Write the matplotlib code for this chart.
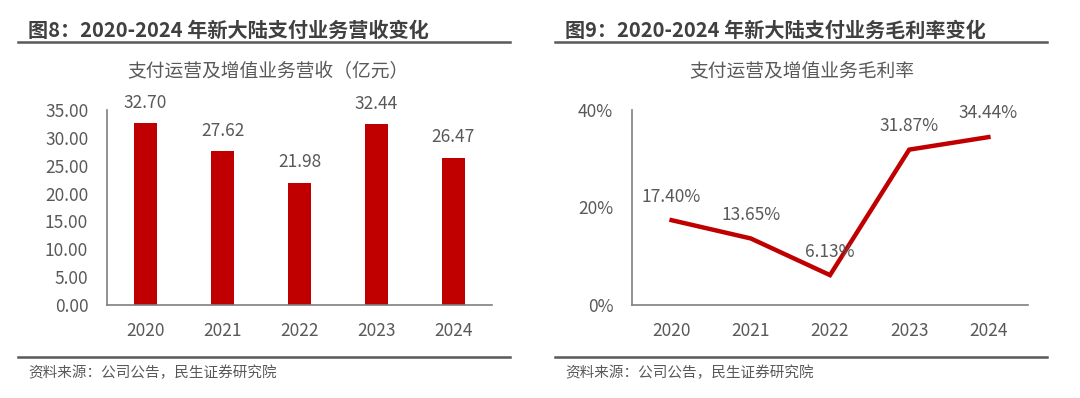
import matplotlib
matplotlib.use('Agg')
import matplotlib.pyplot as plt
from matplotlib.lines import Line2D
from matplotlib.ticker import FuncFormatter

plt.rcParams['font.family'] = ['Noto Sans CJK SC', 'DejaVu Sans']

# 数据
years = ['2020', '2021', '2022', '2023', '2024']
revenue = [32.70, 27.62, 21.98, 32.44, 26.47]          # 亿元
gross_margin = [17.40, 13.65, 6.13, 31.87, 34.44]      # %

RED = '#C00000'
TXT = '#595959'
DARK = '#404040'
W, H = 1080, 398

fig = plt.figure(figsize=(W / 100, H / 100), dpi=100)


def fx(px):
    return px / W


def fy(py):
    return 1 - py / H


def style_axis(ax):
    for s in ['top', 'right']:
        ax.spines[s].set_visible(False)
    for s in ['left', 'bottom']:
        ax.spines[s].set_color('#7f7f7f')
        ax.spines[s].set_linewidth(1.2)
    ax.tick_params(length=0, labelsize=12.5, colors=TXT)
    ax.tick_params(axis='y', pad=13.5)
    ax.tick_params(axis='x', pad=12)
    ax.set_xlim(-0.5, 4.5)


# 左图：营收柱状图
ax1 = fig.add_axes([fx(107), fy(305), fx(492 - 107), (305 - 110) / H])
x = range(len(years))
ax1.bar(x, revenue, width=0.31, color=RED)
ax1.set_ylim(0, 35)
ax1.set_yticks([0, 5, 10, 15, 20, 25, 30, 35])
ax1.yaxis.set_major_formatter(FuncFormatter(lambda v, p: f'{v:.2f}'))
ax1.set_xticks(list(x))
ax1.set_xticklabels(years)
style_axis(ax1)
for i, v in enumerate(revenue):
    ax1.annotate(f'{v:.2f}', (i, v), xytext=(0, 14.5), textcoords='offset points',
                 ha='center', va='center', fontsize=12.5, color=TXT)

# 右图：毛利率折线图
ax2 = fig.add_axes([fx(632), fy(305), fx(1028 - 632), (305 - 110) / H])
ax2.plot(x, [g / 100 for g in gross_margin], color=RED, lw=3.2, solid_joinstyle='miter')
ax2.set_ylim(0, 0.4)
ax2.set_yticks([0, 0.2, 0.4])
ax2.yaxis.set_major_formatter(FuncFormatter(lambda v, p: f'{v * 100:.0f}%'))
ax2.set_xticks(list(x))
ax2.set_xticklabels(years)
style_axis(ax2)
for i, g in enumerate(gross_margin):
    ax2.annotate(f'{g:.2f}%', (i, g / 100), xytext=(0, 17), textcoords='offset points',
                 ha='center', va='center', fontsize=12.5, color=TXT)

# 标题、副标题、分隔线与资料来源
fig.text(fx(28), fy(30), '图8：2020-2024 年新大陆支付业务营收变化', fontsize=14.5,
         fontweight='bold', color=DARK, ha='left', va='center')
fig.text(fx(565), fy(30), '图9：2020-2024 年新大陆支付业务毛利率变化', fontsize=14.5,
         fontweight='bold', color=DARK, ha='left', va='center')

fig.text(fx(268), fy(72), '支付运营及增值业务营收（亿元）', fontsize=13.5,
         color=TXT, ha='center', va='center')
fig.text(fx(802), fy(72), '支付运营及增值业务毛利率', fontsize=13.5,
         color=TXT, ha='center', va='center')

for x0, x1 in [(18, 510), (555, 1047)]:
    fig.add_artist(Line2D([fx(x0), fx(x1)], [fy(42), fy(42)], color='#595959', lw=1.8))
    fig.add_artist(Line2D([fx(x0), fx(x1)], [fy(357), fy(357)], color='#595959', lw=1.8))

fig.text(fx(28), fy(373), '资料来源：公司公告，民生证券研究院', fontsize=10.5,
         color=TXT, ha='left', va='center')
fig.text(fx(565), fy(373), '资料来源：公司公告，民生证券研究院', fontsize=10.5,
         color=TXT, ha='left', va='center')

fig.savefig('out.png', dpi=100)
